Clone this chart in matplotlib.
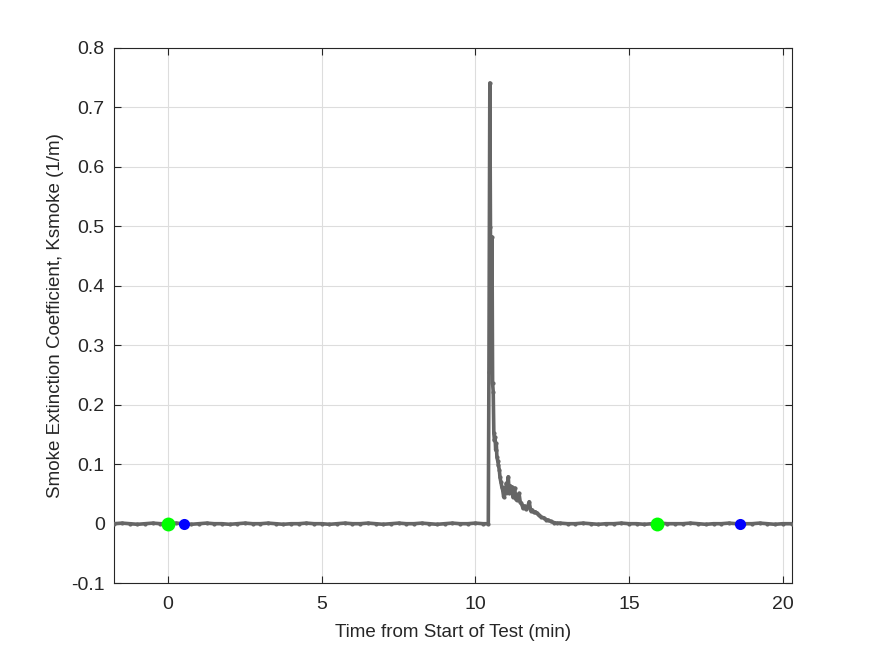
import numpy as np
import matplotlib.pyplot as plt

plt.rcParams['font.family'] = ['Liberation Sans', 'DejaVu Sans']

# smoke extinction coefficient vs time (min)
t_pre = [-1.77, -1.5, -1.25, -1.0, -0.75, -0.5, -0.25, 0.0, 0.25, 0.5, 0.75, 1.0,
         1.25, 1.5, 1.75, 2.0, 2.25, 2.5, 2.75, 3.0, 3.25, 3.5, 3.75, 4.0, 4.25,
         4.5, 4.75, 5.0, 5.25, 5.5, 5.75, 6.0, 6.25, 6.5, 6.75, 7.0, 7.25, 7.5,
         7.75, 8.0, 8.25, 8.5, 8.75, 9.0, 9.25, 9.5, 9.75, 10.0, 10.25, 10.42]
k_pre = [0.000, 0.001, 0.000, -0.001, 0.000, 0.001, 0.000, 0.000, 0.001, 0.000,
         -0.001, 0.000, 0.001, 0.000, 0.000, -0.001, 0.000, 0.001, 0.000, 0.000,
         0.001, 0.000, -0.001, 0.000, 0.000, 0.001, 0.000, 0.000, -0.001, 0.000,
         0.001, 0.000, 0.000, 0.001, 0.000, -0.001, 0.000, 0.001, 0.000, 0.000,
         0.001, 0.000, -0.001, 0.000, 0.001, 0.000, 0.000, 0.001, 0.000, 0.000]

t_peak = [10.44, 10.47, 10.49, 10.50, 10.52, 10.54, 10.56, 10.58, 10.60, 10.62,
          10.64, 10.66, 10.68, 10.70, 10.73, 10.75, 10.78, 10.80, 10.83, 10.86,
          10.89, 10.92, 10.95, 10.98, 11.01, 11.04, 11.07, 11.10, 11.13, 11.16,
          11.19, 11.22, 11.25, 11.28, 11.31, 11.34, 11.38, 11.42, 11.46, 11.50,
          11.55, 11.60, 11.65, 11.70, 11.75, 11.80, 11.85, 11.90, 11.95, 12.00,
          12.07, 12.15, 12.22, 12.30, 12.37, 12.45, 12.55, 12.64]
k_peak = [0.255, 0.741, 0.499, 0.275, 0.354, 0.482, 0.236, 0.222, 0.152, 0.140,
          0.146, 0.124, 0.135, 0.112, 0.105, 0.098, 0.090, 0.078, 0.070, 0.062,
          0.056, 0.045, 0.060, 0.052, 0.068, 0.058, 0.079, 0.051, 0.064, 0.055,
          0.062, 0.045, 0.052, 0.060, 0.042, 0.040, 0.047, 0.051, 0.036, 0.034,
          0.026, 0.030, 0.024, 0.028, 0.037, 0.022, 0.023, 0.019, 0.020, 0.018,
          0.014, 0.011, 0.010, 0.007, 0.006, 0.004, 0.002, 0.001]

t_post = [12.75, 13.0, 13.25, 13.5, 13.75, 14.0, 14.25, 14.5, 14.75, 15.0, 15.25,
          15.5, 15.75, 16.0, 16.25, 16.5, 16.75, 17.0, 17.25, 17.5, 17.75, 18.0,
          18.25, 18.5, 18.75, 19.0, 19.25, 19.5, 19.75, 20.0, 20.3]
k_post = [0.001, 0.000, 0.000, 0.001, 0.000, -0.001, 0.000, 0.000, 0.001, 0.000,
          0.000, -0.001, 0.000, 0.001, 0.000, 0.000, 0.000, 0.001, 0.000, -0.001,
          0.000, 0.000, 0.001, 0.000, 0.000, 0.000, 0.001, 0.000, -0.001, 0.000, 0.000]

# event markers
green_t = [0.0, 15.92]
green_k = [0.0, 0.0]
blue_t = [0.52, 18.62]
blue_k = [0.0, 0.0]

t = np.array(t_pre + t_peak + t_post)
k = np.array(k_pre + k_peak + k_post)

axc = '#262626'
fig = plt.figure(figsize=(8.75, 6.56), dpi=100)
ax = fig.add_axes([0.13, 0.111, 0.775, 0.816])

ax.plot(t, k, color='#666666', lw=2.6, marker='.', ms=4, zorder=3)
ax.plot(green_t, green_k, 'o', color='#00ff00', ms=10, mec='none', zorder=4)
ax.plot(blue_t, blue_k, 'o', color='#0000ff', ms=8, mec='none', zorder=4)

ax.set_xlim(-1.77, 20.3)
ax.set_ylim(-0.1, 0.8)
ax.set_xticks([0, 5, 10, 15, 20])
ax.set_yticks(np.arange(-0.1, 0.81, 0.1))
ax.set_yticklabels(['-0.1', '0', '0.1', '0.2', '0.3', '0.4', '0.5', '0.6', '0.7', '0.8'])
ax.grid(True, color='#dddddd', lw=0.8)
ax.set_axisbelow(True)
ax.tick_params(direction='in', top=True, right=True, length=5, width=0.8,
               labelsize=14, colors=axc)
ax.tick_params(axis='x', pad=9)
ax.tick_params(axis='y', pad=6.5)
for s in ax.spines.values():
    s.set_color(axc)
    s.set_linewidth(0.8)

ax.set_xlabel('Time from Start of Test (min)', fontsize=13.5, color=axc, labelpad=8)
ax.set_ylabel('Smoke Extinction Coefficient, Ksmoke (1/m)', fontsize=13.5, color=axc, labelpad=5)

fig.savefig('out.png', dpi=100)
